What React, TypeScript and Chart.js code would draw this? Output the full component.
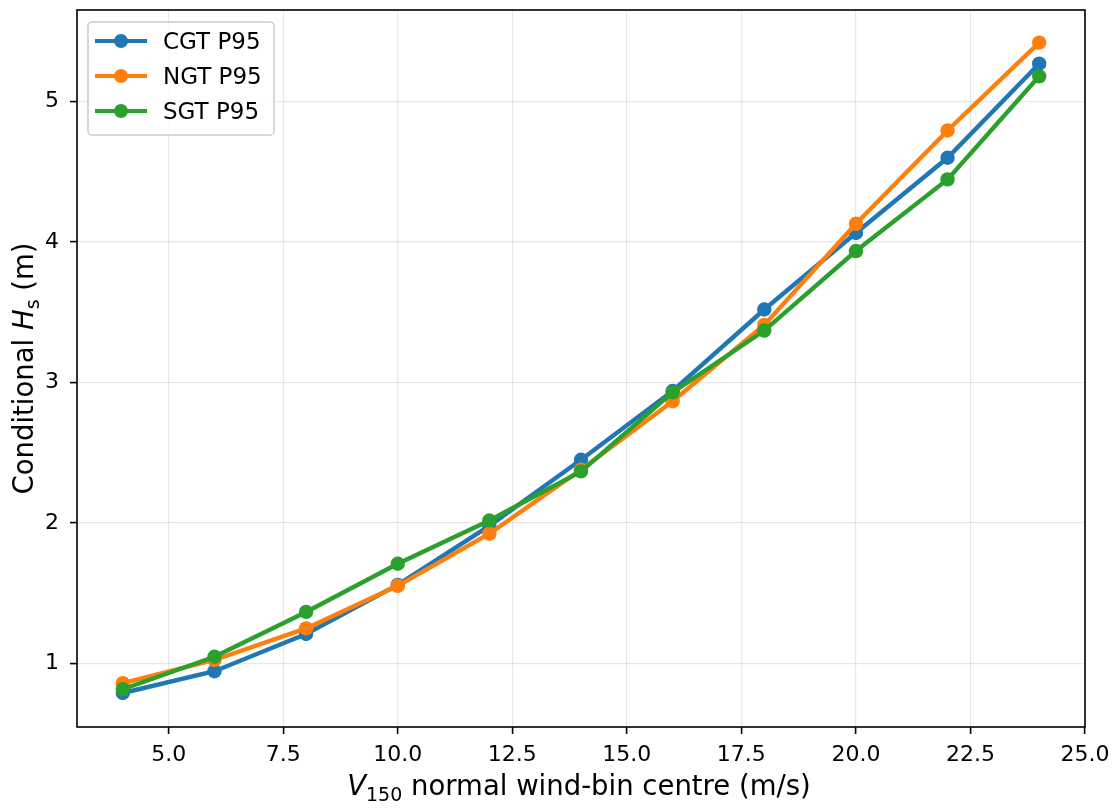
import React, { useEffect, useRef } from 'react';
import { Chart, registerables } from 'chart.js';

Chart.register(...registerables);

// wind-bin centres (m/s) and the P95 conditional Hs per region
const windBins = [4, 6, 8, 10, 12, 14, 16, 18, 20, 22, 24];
const cgtP95 = [0.79, 0.945, 1.21, 1.56, 1.98, 2.45, 2.94, 3.52, 4.065, 4.6, 5.27];
const ngtP95 = [0.86, 1.025, 1.25, 1.553, 1.924, 2.38, 2.867, 3.41, 4.13, 4.794, 5.42];
const sgtP95 = [0.817, 1.048, 1.367, 1.71, 2.018, 2.368, 2.93, 3.37, 3.936, 4.446, 5.18];

const seriesNames = ['CGT P95', 'NGT P95', 'SGT P95'];
const seriesColors = ['#1f77b4', '#ff7f0e', '#2ca02c'];

const xTicks = [5, 7.5, 10, 12.5, 15, 17.5, 20, 22.5, 25];
const yTicks = [1, 2, 3, 4, 5];

const FAMILY = '"DejaVu Sans", sans-serif';

type Part = { text: string; font: string; dy?: number };

// draws a run of text pieces (for the mathtext-style labels), centred on x
const drawParts = (ctx: CanvasRenderingContext2D, parts: Part[], x: number, y: number) => {
  let total = 0;
  parts.forEach(p => {
    ctx.font = p.font;
    total += ctx.measureText(p.text).width;
  });
  let cx = x - total / 2;
  ctx.textAlign = 'left';
  ctx.textBaseline = 'alphabetic';
  parts.forEach(p => {
    ctx.font = p.font;
    ctx.fillText(p.text, cx, y + (p.dy || 0));
    cx += ctx.measureText(p.text).width;
  });
};

const decorPlugin = {
  id: 'decor',
  afterDraw(chart: Chart) {
    const { ctx, chartArea } = chart;
    const { left, right, top, bottom } = chartArea;
    ctx.save();

    // frame on all four sides
    ctx.strokeStyle = '#000';
    ctx.lineWidth = 1.6;
    ctx.strokeRect(left, top, right - left, bottom - top);

    // axis titles
    ctx.fillStyle = '#000';
    drawParts(
      ctx,
      [
        { text: 'V', font: `italic 27.5px ${FAMILY}` },
        { text: '150', font: `19px ${FAMILY}`, dy: 5.7 },
        { text: ' normal wind-bin centre (m/s)', font: `27.5px ${FAMILY}` },
      ],
      (left + right) / 2 - 2,
      795
    );
    ctx.save();
    ctx.translate(33, (top + bottom) / 2);
    ctx.rotate(-Math.PI / 2);
    drawParts(
      ctx,
      [
        { text: 'Conditional ', font: `27.5px ${FAMILY}` },
        { text: 'H', font: `italic 27.5px ${FAMILY}` },
        { text: 's', font: `19px ${FAMILY}`, dy: 5.7 },
        { text: ' (m)', font: `27.5px ${FAMILY}` },
      ],
      0,
      0
    );
    ctx.restore();

    // legend box, upper left
    const bx = left + 11;
    const by = top + 12;
    const bw = 186;
    const bh = 113;
    ctx.beginPath();
    ctx.roundRect(bx, by, bw, bh, 4);
    ctx.fillStyle = 'rgba(255,255,255,0.8)';
    ctx.fill();
    ctx.strokeStyle = '#cccccc';
    ctx.lineWidth = 1.5;
    ctx.stroke();

    seriesNames.forEach((name, i) => {
      const ry = by + 19 + i * 35;
      ctx.strokeStyle = seriesColors[i];
      ctx.lineWidth = 4.2;
      ctx.beginPath();
      ctx.moveTo(bx + 7, ry);
      ctx.lineTo(bx + 59, ry);
      ctx.stroke();
      ctx.fillStyle = seriesColors[i];
      ctx.beginPath();
      ctx.arc(bx + 33, ry, 7, 0, Math.PI * 2);
      ctx.fill();
      ctx.fillStyle = '#000';
      ctx.font = `23px ${FAMILY}`;
      ctx.textAlign = 'left';
      ctx.textBaseline = 'alphabetic';
      ctx.fillText(name, bx + 75, ry + 8.4);
    });

    ctx.restore();
  },
};

const zeroPad = (scale: any) => {
  scale.paddingLeft = 0;
  scale.paddingRight = 0;
  scale.paddingTop = 0;
  scale.paddingBottom = 0;
};

const App: React.FC = () => {
  const canvasRef = useRef<HTMLCanvasElement>(null);

  useEffect(() => {
    if (!canvasRef.current) return;
    const seriesValues = [cgtP95, ngtP95, sgtP95];

    const chart = new Chart(canvasRef.current, {
      type: 'line',
      data: {
        datasets: seriesValues.map((vals, i) => ({
          label: seriesNames[i],
          data: windBins.map((x, j) => ({ x, y: vals[j] })),
          borderColor: seriesColors[i],
          backgroundColor: seriesColors[i],
          borderWidth: 4.4,
          pointRadius: 7.2,
          pointBorderWidth: 0,
          pointBackgroundColor: seriesColors[i],
          tension: 0,
          fill: false,
          order: 3 - i,
        })),
      },
      options: {
        responsive: false,
        animation: false,
        layout: { padding: { top: 10, right: 32, left: 0, bottom: 0 } },
        plugins: {
          legend: { display: false },
          tooltip: { enabled: false },
          title: { display: false },
        },
        scales: {
          x: {
            type: 'linear',
            min: 3,
            max: 25,
            afterBuildTicks: (scale: any) => {
              scale.ticks = xTicks.map(value => ({ value }));
            },
            afterFit: (scale: any) => {
              scale.height = 83;
              zeroPad(scale);
            },
            ticks: {
              autoSkip: false,
              maxRotation: 0,
              padding: 8,
              color: '#000',
              font: { family: FAMILY, size: 22 },
              callback: (v: any) => Number(v).toFixed(1),
            },
            grid: {
              color: 'rgba(0,0,0,0.09)',
              lineWidth: 1.2,
              tickColor: '#000',
              tickLength: 7,
              tickWidth: 1.6,
            },
            border: { display: false },
          },
          y: {
            type: 'linear',
            min: 0.548,
            max: 5.652,
            afterBuildTicks: (scale: any) => {
              scale.ticks = yTicks.map(value => ({ value }));
            },
            afterFit: (scale: any) => {
              scale.width = 77;
              zeroPad(scale);
            },
            ticks: {
              autoSkip: false,
              padding: 11,
              color: '#000',
              font: { family: FAMILY, size: 22 },
              callback: (v: any) => String(v),
            },
            grid: {
              color: 'rgba(0,0,0,0.09)',
              lineWidth: 1.2,
              tickColor: '#000',
              tickLength: 7,
              tickWidth: 1.6,
            },
            border: { display: false },
          },
        },
      },
      plugins: [decorPlugin],
    });

    return () => {
      chart.destroy();
    };
  }, []);

  return (
    <div style={{ position: 'fixed', left: 0, top: 0, width: 1117, height: 810, background: '#fff' }}>
      <canvas ref={canvasRef} width={1117} height={810}></canvas>
    </div>
  );
};

export default App;
